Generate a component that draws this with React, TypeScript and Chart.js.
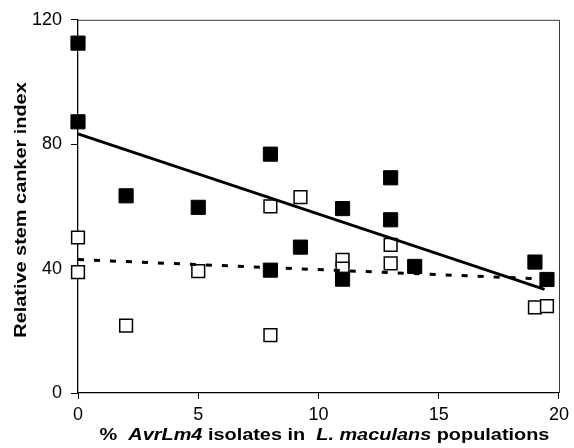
import { useEffect, useRef } from "react";
import { Chart, registerables } from "chart.js";

Chart.register(...registerables);

// Relative stem canker index against % AvrLm4 isolates
const filledX = [0, 0, 2, 5, 8, 8, 9.25, 11, 11, 13, 13, 14, 19, 19.5];
const filledY = [112.5, 87.2, 63.4, 59.7, 76.8, 39.5, 46.9, 59.3, 36.6, 69.2, 55.7, 40.7, 42.1, 36.5];

const openX = [0, 0, 2, 5, 8, 8, 9.25, 11, 11, 13, 13, 19, 19.5];
const openY = [50.0, 38.9, 21.7, 39.2, 60.0, 18.6, 63.0, 42.8, 40.0, 47.6, 41.7, 27.5, 27.9];

// Fitted trend lines (end points)
const solidFitX = [0, 19.4];
const solidFitY = [83.3, 33.3];
const dottedFitX = [0, 19.5];
const dottedFitY = [42.9, 36.6];

const xTicks = [0, 5, 10, 15, 20];
const yTicks = [0, 40, 80, 120];

const yTitle = "Relative stem canker index";
const xTitleParts = [
  { text: "%  ", italic: false },
  { text: "AvrLm4", italic: true },
  { text: " isolates in  ", italic: false },
  { text: "L. maculans", italic: true },
  { text: " populations", italic: false },
];

const FAMILY = "'Liberation Sans', Arial, Helvetica, sans-serif";
const STRETCH = 1.17;

const toPoints = (xs: number[], ys: number[]) => xs.map((x, i) => ({ x, y: ys[i] }));

const framePlugin = {
  id: "frameAndTitles",
  afterDraw(chart: any) {
    const { ctx, chartArea } = chart;
    const { left, right, top, bottom } = chartArea;

    // top and right edges of the plot box
    ctx.save();
    ctx.strokeStyle = "#3a3a3a";
    ctx.lineWidth = 1;
    ctx.beginPath();
    ctx.moveTo(left, top + 0.5);
    ctx.lineTo(right + 0.5, top + 0.5);
    ctx.lineTo(right + 0.5, bottom);
    ctx.stroke();
    ctx.restore();

    // y axis title
    ctx.save();
    ctx.fillStyle = "#000";
    ctx.textBaseline = "alphabetic";
    ctx.textAlign = "center";
    ctx.font = `bold 17px ${FAMILY}`;
    ctx.translate(26, 210);
    ctx.rotate(-Math.PI / 2);
    ctx.scale(STRETCH, 1);
    ctx.fillText(yTitle, 0, 0);
    ctx.restore();

    // x axis title with italic names
    ctx.save();
    ctx.fillStyle = "#000";
    ctx.textBaseline = "alphabetic";
    ctx.textAlign = "left";
    const fonts = xTitleParts.map(
      (p) => `${p.italic ? "italic " : ""}bold 17px ${FAMILY}`
    );
    const widths = xTitleParts.map((p, i) => {
      ctx.font = fonts[i];
      return ctx.measureText(p.text).width;
    });
    const total = widths.reduce((a, b) => a + b, 0);
    ctx.translate((left + right) / 2 + 6, 440);
    ctx.scale(STRETCH, 1);
    let x = -total / 2;
    xTitleParts.forEach((p, i) => {
      ctx.font = fonts[i];
      ctx.fillText(p.text, x, 0);
      x += widths[i];
    });
    ctx.restore();
  },
};

export default function App() {
  const canvasRef = useRef<HTMLCanvasElement | null>(null);

  useEffect(() => {
    document.body.style.margin = "0";
    const canvas = canvasRef.current;
    if (!canvas) return;

    const chart = new Chart(canvas, {
      type: "scatter",
      data: {
        datasets: [
          {
            label: "filled",
            data: toPoints(filledX, filledY),
            pointStyle: "rect",
            pointRadius: 10,
            pointBackgroundColor: "#000",
            pointBorderColor: "#000",
            pointBorderWidth: 1,
            showLine: false,
            clip: false,
          },
          {
            label: "solid fit",
            type: "line",
            data: toPoints(solidFitX, solidFitY),
            borderColor: "#000",
            borderWidth: 3,
            pointRadius: 0,
            fill: false,
            tension: 0,
            clip: false,
          },
          {
            label: "dotted fit",
            type: "line",
            data: toPoints(dottedFitX, dottedFitY),
            borderColor: "#000",
            borderWidth: 3,
            borderDash: [6, 10],
            pointRadius: 0,
            fill: false,
            tension: 0,
            clip: false,
          },
          {
            label: "open",
            data: toPoints(openX, openY),
            pointStyle: "rect",
            pointRadius: 9,
            pointBackgroundColor: "#fff",
            pointBorderColor: "#000",
            pointBorderWidth: 1.5,
            showLine: false,
            clip: false,
          },
        ],
      } as any,
      options: {
        responsive: false,
        animation: false,
        devicePixelRatio: 1,
        layout: { padding: { left: 0, top: 19, right: 13, bottom: 0 } },
        plugins: {
          legend: { display: false },
          tooltip: { enabled: false },
        },
        scales: {
          x: {
            type: "linear",
            min: 0,
            max: 20,
            afterBuildTicks: (scale: any) => {
              scale.ticks = xTicks.map((v) => ({ value: v }));
            },
            afterFit: (scale: any) => {
              scale.height = 55;
            },
            grid: {
              drawOnChartArea: false,
              drawTicks: true,
              tickLength: 6,
              color: "#000",
              lineWidth: 1,
            },
            border: { display: true, color: "#000", width: 1.3 },
            ticks: {
              color: "#000",
              font: { family: FAMILY, size: 18 },
              padding: 5,
              maxRotation: 0,
            },
          },
          y: {
            type: "linear",
            min: 0,
            max: 120,
            afterBuildTicks: (scale: any) => {
              scale.ticks = yTicks.map((v) => ({ value: v }));
            },
            afterFit: (scale: any) => {
              scale.width = 78;
            },
            grid: {
              drawOnChartArea: false,
              drawTicks: true,
              tickLength: 7,
              color: "#000",
              lineWidth: 1,
            },
            border: { display: true, color: "#000", width: 1.3 },
            ticks: {
              color: "#000",
              font: { family: FAMILY, size: 18 },
              padding: 9,
            },
          },
        },
      } as any,
      plugins: [framePlugin],
    });

    return () => chart.destroy();
  }, []);

  return (
    <div style={{ position: "absolute", left: 0, top: 0, width: 574, height: 448, background: "#fff" }}>
      <canvas ref={canvasRef} width={574} height={448} />
    </div>
  );
}
